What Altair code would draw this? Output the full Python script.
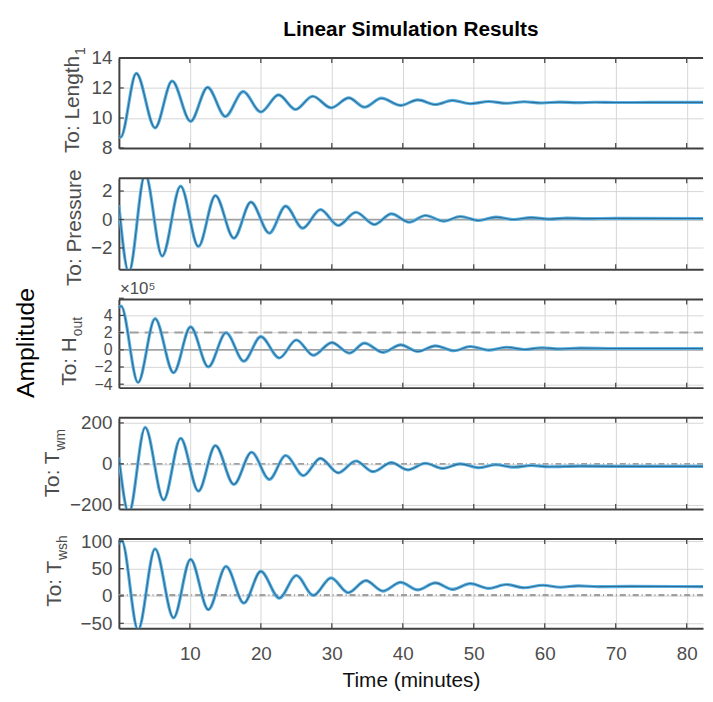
import altair as alt
import pandas as pd

# ---------------- data ----------------
x_ticks = [10, 20, 30, 40, 50, 60, 70, 80]

# Panel 1: To: Length_1
t1 = [0, 0.25, 2.45, 5.1, 7.5, 10.1, 12.5, 15.0, 17.5, 20.0, 22.5, 24.9, 27.3, 29.9, 32.4, 34.6,
      37.0, 39.7, 42.1, 44.6, 47.0, 49.5, 52.1, 54.6, 57.1, 59.6, 62.1, 64.6, 67.1, 70.0, 75.0, 82.7]
y1 = [8.8, 8.72, 12.97, 9.34, 12.46, 9.78, 12.04, 10.1, 11.76, 10.4, 11.54, 10.57, 11.45, 10.68, 11.34, 10.72,
      11.32, 10.84, 11.21, 10.9, 11.17, 10.95, 11.1, 10.98, 11.08, 11.0, 11.06, 11.02, 11.05, 11.03, 11.04, 11.04]

# Panel 2: To: Pressure
t2 = [0, 1.4, 3.7, 6.1, 8.7, 11.2, 13.6, 16.2, 18.6, 21.2, 23.5, 25.9, 28.4, 30.9, 33.4, 36.0,
      38.4, 40.9, 43.2, 45.8, 48.1, 50.7, 53.1, 55.6, 58.1, 60.6, 63.1, 66.0, 70.0, 82.7]
y2 = [1.0, -3.7, 3.2, -2.57, 2.34, -1.89, 1.68, -1.31, 1.22, -0.96, 0.94, -0.61, 0.70, -0.42, 0.51, -0.35,
      0.40, -0.19, 0.28, -0.12, 0.21, -0.07, 0.17, 0.0, 0.13, 0.03, 0.10, 0.06, 0.08, 0.07]

# Panel 3: To: H_out (x 10^5)
t3 = [0, 0.3, 2.7, 5.1, 7.7, 10.1, 12.6, 15.1, 17.6, 20.0, 22.6, 25.0, 27.4, 30.0, 32.5, 34.6,
      37.2, 39.7, 42.1, 44.6, 47.2, 49.5, 52.1, 54.6, 57.1, 59.6, 62.1, 65.0, 70.0, 82.7]
y3 = [4.9, 5.1, -3.8, 3.62, -2.66, 2.67, -1.98, 1.98, -1.33, 1.53, -0.95, 1.14, -0.64, 0.84, -0.38, 0.77,
      -0.30, 0.57, -0.19, 0.46, -0.11, 0.38, -0.04, 0.30, 0.04, 0.24, 0.10, 0.20, 0.15, 0.15]

# Panel 4: To: T_wm
t4 = [0, 1.4, 3.7, 6.3, 8.7, 11.2, 13.6, 16.2, 18.7, 21.2, 23.5, 26.0, 28.4, 30.9, 33.4, 35.8,
      38.4, 40.7, 43.2, 45.6, 48.1, 50.7, 53.1, 55.6, 58.1, 60.6, 65.0, 70.0, 82.7]
y4 = [30, -240, 178, -176, 125, -133, 89, -100, 57, -76, 41, -57, 27, -44, 14, -38,
      6, -29, 3, -22, 0, -19, -4, -16, -8, -14, -11, -12, -12]

# Panel 5: To: T_wsh
t5 = [0, 0.4, 2.7, 5.1, 7.7, 10.1, 12.6, 15.1, 17.6, 20.0, 22.6, 25.0, 27.4, 29.9, 32.3, 34.8,
      37.2, 39.7, 42.1, 44.6, 47.0, 49.5, 52.1, 54.6, 57.1, 59.7, 62.2, 64.7, 67.5, 72.0, 82.7]
y5 = [95, 101, -62, 86, -40, 67, -25, 54, -13, 45, -4, 37.5, 1, 33, 6, 28,
      9, 25, 11, 24, 12, 22.7, 14, 21, 15, 19.6, 16, 18.5, 17, 17.5, 17]

y_ticks = [[8, 10, 12, 14], [-2, 0, 2], [-4, -2, 0, 2, 4, 6], [-200, 0, 200], [-50, 0, 50, 100]]
y_domains = [[8, 14], [-3.5, 2.9], [-4.4, 5.85], [-220, 225], [-59, 104]]
panel_titles = ["To: Length", "To: Pressure", "To: H", "To: T", "To: T"]
panel_subs = ["1", "", "out", "wm", "wsh"]
# grey input / reference lines per panel: (value, dash, width)
ref_lines = [[], [(0, [], 1.5)], [(0, [], 1.5), (2, [9, 6], 2)], [(0, [6, 3, 1, 3], 1.8)], [(1.5, [6, 3, 1, 3], 2.2)]]

title_text = "Linear Simulation Results"
x_title = "Time (minutes)"
y_big_title = "Amplitude"
exp_text = "×10⁵"

# ---------------- styling ----------------
W = 590
XMAX = 82.3
heights = [91, 92, 89, 92, 90]
LIGHT = "#56b2e6"
DARK = "#336a8e"
BOX = "#404040"
GREY_TXT = "#4d4d4d"
REG = "Liberation Sans, Arial, Helvetica"
label_sizes = [19, 19, 16, 19, 19]

# title label positions relative to each panel's plot origin
title_pos = [(-40, -2, "right"), (-38, 50, "center"), (-43, 38, "right"), (-60, 34, "right"), (-58, 22, "right")]

ts = [t1, t2, t3, t4, t5]
ys = [y1, y2, y3, y4, y5]

panels = []
for i in range(5):
    h = heights[i]
    last = i == 4
    df = pd.DataFrame({"t": ts[i], "y": ys[i]})
    ax_x = alt.Axis(values=x_ticks, grid=True, labels=last, ticks=False, domain=True,
                    title=x_title if last else None, labelFlush=False,
                    labelPadding=17, titlePadding=6, titleFont=REG, titleFontSize=21,
                    titleFontWeight="normal", titleColor="#111111")
    ax_y = alt.Axis(values=y_ticks[i], grid=True, ticks=False, domain=True, title=None,
                    labelOverlap=False, labelFlush=False, labelPadding=7,
                    labelFontSize=label_sizes[i])
    X = alt.X("t:Q", scale=alt.Scale(domain=[0, XMAX], nice=False, zero=False), axis=ax_x)
    Y = alt.Y("y:Q", scale=alt.Scale(domain=y_domains[i], nice=False, zero=False), axis=ax_y)

    layers = []
    for (v, dash, sw) in ref_lines[i]:
        layers.append(alt.Chart(pd.DataFrame({"y": [v]})).mark_rule(
            color="#a0a0a0", strokeWidth=sw, strokeDash=dash if dash else [1, 0]).encode(y=Y))
    layers.append(alt.Chart(df).mark_line(interpolate="monotone", clip=True, color=LIGHT,
                                          strokeWidth=3.2).encode(x=X, y=Y))
    layers.append(alt.Chart(df).mark_line(interpolate="monotone", clip=True, color=DARK,
                                          strokeWidth=1.1).encode(x=X, y=Y))
    # inward ticks (MATLAB style)
    xt = pd.DataFrame({"t": x_ticks})
    layers.append(alt.Chart(xt).mark_rule(color=BOX, strokeWidth=1.2).encode(
        x=X, y=alt.value(0), y2=alt.value(5)))
    layers.append(alt.Chart(xt).mark_rule(color=BOX, strokeWidth=1.2).encode(
        x=X, y=alt.value(h - 5), y2=alt.value(h)))
    yt = pd.DataFrame({"y": y_ticks[i]})
    layers.append(alt.Chart(yt).mark_rule(color=BOX, strokeWidth=1.2).encode(
        y=Y, x=alt.value(0), x2=alt.value(5)))
    # top border
    layers.append(alt.Chart(pd.DataFrame({"a": [0]})).mark_rule(color=BOX, strokeWidth=2).encode(
        x=alt.value(0), x2=alt.value(W), y=alt.value(0)))
    # panel title (rotated) with subscript
    tx, ty, al = title_pos[i]
    layers.append(alt.Chart(pd.DataFrame({"label": [panel_titles[i]]})).mark_text(
        angle=270, align=al, baseline="alphabetic", font=REG, fontSize=21, color=GREY_TXT).encode(
        text="label:N", x=alt.value(tx), y=alt.value(ty)))
    if panel_subs[i]:
        layers.append(alt.Chart(pd.DataFrame({"label": [panel_subs[i]]})).mark_text(
            angle=270, align="left", baseline="alphabetic", font=REG, fontSize=14, color=GREY_TXT).encode(
            text="label:N", x=alt.value(tx + 6), y=alt.value(ty - 1)))
    if i == 0:
        layers.append(alt.Chart(pd.DataFrame({"label": [title_text]})).mark_text(
            align="center", baseline="alphabetic", font=REG, fontSize=21, fontWeight="bold",
            color="#000000").encode(text="label:N", x=alt.value(W / 2), y=alt.value(-22)))
    if i == 2:
        layers.append(alt.Chart(pd.DataFrame({"label": [exp_text]})).mark_text(
            align="left", baseline="alphabetic", font=REG, fontSize=17, color=GREY_TXT).encode(
            text="label:N", x=alt.value(1), y=alt.value(-6)))
        layers.append(alt.Chart(pd.DataFrame({"label": [y_big_title]})).mark_text(
            angle=270, align="center", baseline="alphabetic", font=REG, fontSize=25,
            color="#000000").encode(text="label:N", x=alt.value(-86), y=alt.value(44)))
    panels.append(alt.layer(*layers).properties(width=W, height=h))

chart = alt.vconcat(*panels, spacing=30.5, bounds="flush").properties(
    padding={"left": 6, "top": 8, "right": 0, "bottom": 0}
).configure_view(stroke=None).configure_axis(
    labelFont=REG, labelFontSize=19, labelColor=GREY_TXT,
    gridColor="#d6d6d6", gridWidth=1, domainColor=BOX, domainWidth=2
)

chart.save("out.html", embed_options={"renderer": "svg", "actions": False})
